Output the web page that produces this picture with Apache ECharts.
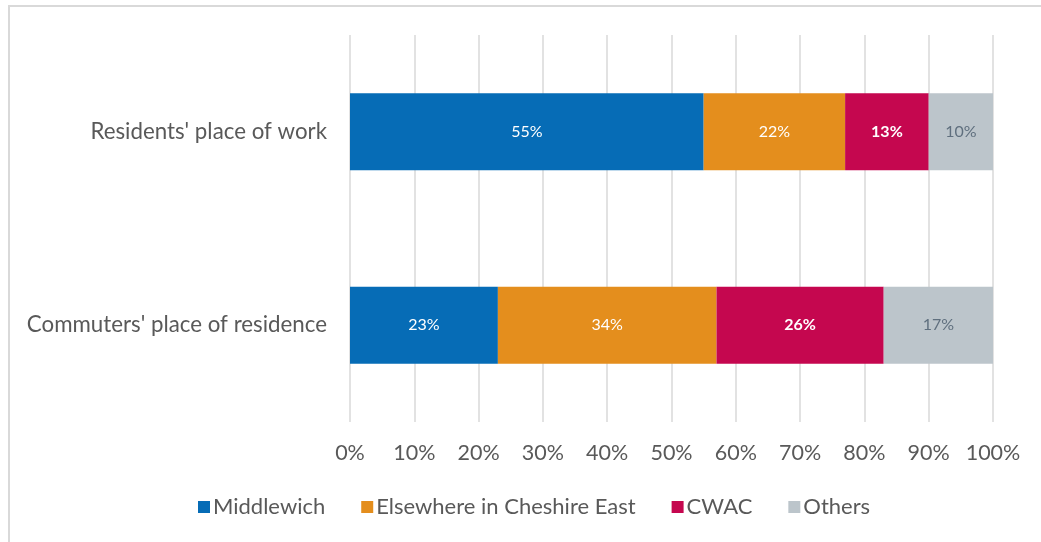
<!DOCTYPE html>
<html>
<head>
<meta charset="utf-8">
<script src="https://cdn.jsdelivr.net/npm/echarts@6/dist/echarts.min.js"></script>
<style>
  html, body { margin: 0; padding: 0; background: #fff; }
  #chart { width: 1041px; height: 542px; }
</style>
</head>
<body>
<div id="chart"></div>
<script>
// Share of trips by place (per cent), one row per question
const categories = ["Commuters' place of residence", "Residents' place of work"];
const seriesNames = ['Middlewich', 'Elsewhere in Cheshire East', 'CWAC', 'Others'];
const middlewich = [23, 55];
const elsewhereCheshireEast = [34, 22];
const cwac = [26, 13];
const others = [17, 10];
const tickValues = [0, 10, 20, 30, 40, 50, 60, 70, 80, 90, 100];

const FONT = 'Lato';
const colors = ['#066cb6', '#e48e1d', '#c5074f', '#bcc5cb'];
const labelStyles = [
  { color: '#ffffff', fontWeight: 'normal' },
  { color: '#ffffff', fontWeight: 'normal' },
  { color: '#ffffff', fontWeight: 'bold' },
  { color: '#5f6f7e', fontWeight: 'normal' }
];
const values = [middlewich, elsewhereCheshireEast, cwac, others];

const chart = echarts.init(document.getElementById('chart'), null, { renderer: 'canvas' });

chart.setOption({
  animation: false,
  textStyle: { fontFamily: FONT },
  graphic: [{
    type: 'rect',
    shape: { x: 9, y: 6, width: 1200, height: 700 },
    style: { fill: 'none', stroke: '#d9d9d9', lineWidth: 2 },
    silent: true
  }],
  grid: { left: 350, right: 48, top: 35, bottom: 120, containLabel: false },
  legend: {
    data: seriesNames,
    bottom: 19,
    left: 193,
    itemWidth: 12,
    itemHeight: 12,
    itemGap: 36,
    icon: 'rect',
    textStyle: { fontFamily: FONT, fontSize: 22, color: '#595959', padding: [0, 0, 0, -2] }
  },
  xAxis: {
    type: 'value',
    min: 0,
    max: 100,
    interval: 10,
    axisLine: { show: false },
    axisTick: { show: false },
    splitLine: { show: true, lineStyle: { color: '#d9d9d9', width: 1.5 } },
    axisLabel: {
      margin: 20,
      fontFamily: FONT,
      fontSize: 21.5,
      color: '#595959',
      formatter: v => tickValues.includes(v) ? v + '%' : ''
    }
  },
  yAxis: {
    type: 'category',
    data: categories,
    axisLine: { show: false },
    axisTick: { show: false },
    axisLabel: { margin: 23, fontFamily: FONT, fontSize: 22.3, color: '#595959' }
  },
  series: seriesNames.map((name, i) => ({
    name,
    type: 'bar',
    stack: 'total',
    barWidth: 77,
    data: values[i],
    itemStyle: { color: colors[i] },
    label: {
      show: true,
      position: 'inside',
      fontFamily: FONT,
      fontSize: 16,
      color: labelStyles[i].color,
      fontWeight: labelStyles[i].fontWeight,
      formatter: p => p.value + '%'
    }
  }))
});
</script>
</body>
</html>
